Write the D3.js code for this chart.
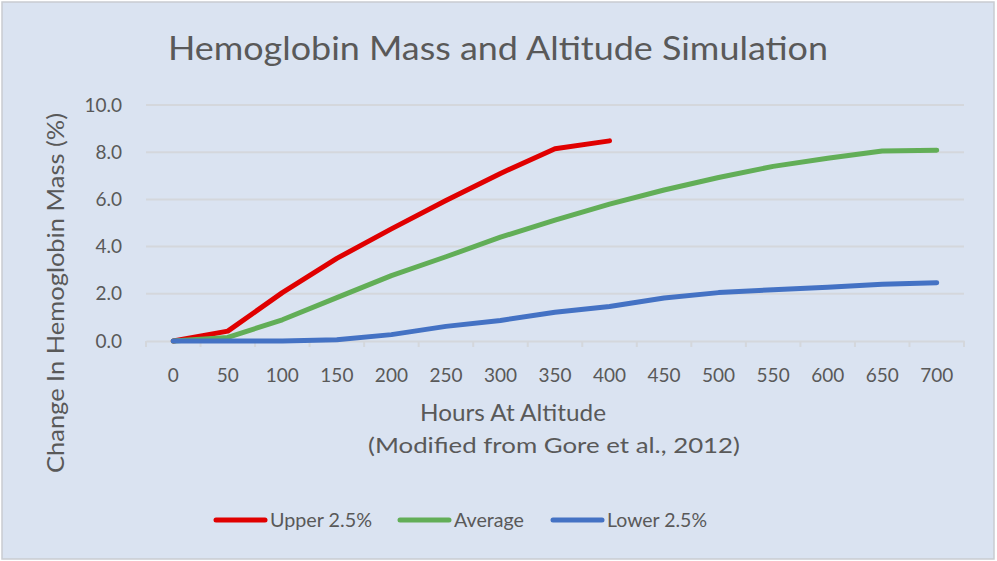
<!DOCTYPE html>
<html>
<head>
<meta charset="utf-8">
<script src="https://cdn.jsdelivr.net/npm/d3@7"></script>
<style>
  body { margin: 0; background: #fff; }
  svg text { font-family: Lato, "Open Sans", sans-serif; fill: #595959; }
</style>
</head>
<body>
<svg id="chart"></svg>
<script>
// hours at altitude (category axis)
const hours = [0, 50, 100, 150, 200, 250, 300, 350, 400, 450, 500, 550, 600, 650, 700];
// change in hemoglobin mass (%)
const upper = [0, 0.42, 2.05, 3.5, 4.75, 5.95, 7.1, 8.15, 8.48];
const average = [0, 0.15, 0.9, 1.84, 2.77, 3.57, 4.4, 5.12, 5.8, 6.4, 6.93, 7.4, 7.74, 8.05, 8.08];
const lower = [0, 0, 0, 0.05, 0.27, 0.62, 0.87, 1.22, 1.46, 1.82, 2.05, 2.17, 2.28, 2.4, 2.47];
const yTicks = [0, 2, 4, 6, 8, 10];

const seriesNames = ["Upper 2.5%", "Average", "Lower 2.5%"];
const seriesColors = ["#e00000", "#62ae57", "#4472c4"];
const seriesData = [upper, average, lower];

const W = 997, H = 561;
const svg = d3.select("#chart").attr("width", W).attr("height", H);

// chart background + border
svg.append("rect")
    .attr("x", 2).attr("y", 2)
    .attr("width", W - 5).attr("height", H - 4)
    .attr("fill", "#dae3f1")
    .attr("stroke", "#c9ccd1")
    .attr("stroke-width", 1.5);

const plotLeft = 146, plotRight = 964, plotTop = 105, plotBottom = 341;

let xScale = d3.scaleBand()
    .domain(hours)
    .range([plotLeft, plotRight]);

let yScale = d3.scaleLinear()
    .domain([0, 10])
    .range([plotBottom, plotTop]);

// gridlines
svg.append("g")
    .selectAll("line")
    .data(yTicks.filter(d => d > 0))
    .enter()
    .append("line")
    .attr("x1", plotLeft).attr("x2", plotRight)
    .attr("y1", d => yScale(d)).attr("y2", d => yScale(d))
    .attr("stroke", "#d4d7dc")
    .attr("stroke-width", 2);

// y labels
svg.append("g")
    .selectAll("text")
    .data(yTicks)
    .enter()
    .append("text")
    .attr("x", 122)
    .attr("y", d => yScale(d))
    .attr("dy", "0.35em")
    .attr("text-anchor", "end")
    .attr("font-size", "19px")
    .text(d => d.toFixed(1));

// x axis
let xAxis = d3.axisBottom(xScale).tickSize(0).tickPadding(28);
let gx = svg.append("g")
    .attr("transform", "translate(0," + plotBottom + ")")
    .call(xAxis);
gx.select(".domain").attr("stroke", "#d4d7dc").attr("stroke-width", 2);
gx.selectAll("text").attr("font-size", "19px").attr("fill", "#595959")
    .style("font-family", "Lato, 'Open Sans', sans-serif");
// tick marks at category boundaries
gx.append("g")
    .selectAll("line")
    .data(hours.map(d => xScale(d)).concat([plotRight]))
    .enter()
    .append("line")
    .attr("x1", d => d).attr("x2", d => d)
    .attr("y1", 0).attr("y2", 6)
    .attr("stroke", "#d4d7dc")
    .attr("stroke-width", 2);

// lines
const lineFun = d3.line()
    .x((d, i) => xScale(hours[i]) + xScale.bandwidth() / 2)
    .y(d => yScale(d));

seriesData.forEach((s, k) => {
    svg.append("path")
        .attr("d", lineFun(s))
        .attr("fill", "none")
        .attr("stroke", seriesColors[k])
        .attr("stroke-width", 5)
        .attr("stroke-linecap", "round")
        .attr("stroke-linejoin", "round");
});

// title
svg.append("text")
    .attr("x", 168).attr("y", 60)
    .attr("font-size", "33px")
    .attr("textLength", 660)
    .attr("lengthAdjust", "spacingAndGlyphs")
    .text("Hemoglobin  Mass and Altitude Simulation");

// axis titles
svg.append("text")
    .attr("x", 420).attr("y", 421)
    .attr("font-size", "24px")
    .attr("textLength", 186)
    .attr("lengthAdjust", "spacingAndGlyphs")
    .text("Hours At Altitude");
svg.append("text")
    .attr("x", 368).attr("y", 453)
    .attr("font-size", "22px")
    .attr("textLength", 372)
    .attr("lengthAdjust", "spacingAndGlyphs")
    .text("(Modified from Gore  et al., 2012)");
svg.append("text")
    .attr("transform", "translate(64,473) rotate(-90)")
    .attr("font-size", "23px")
    .attr("textLength", 360)
    .attr("lengthAdjust", "spacingAndGlyphs")
    .text("Change In Hemoglobin Mass (%)");

// legend
const legendX = [216, 400, 553];
const legendW = [102, 70, 100];
seriesNames.forEach((n, k) => {
    svg.append("line")
        .attr("x1", legendX[k]).attr("x2", legendX[k] + 49)
        .attr("y1", 520).attr("y2", 520)
        .attr("stroke", seriesColors[k])
        .attr("stroke-width", 5)
        .attr("stroke-linecap", "round");
    svg.append("text")
        .attr("x", legendX[k] + 54).attr("y", 520)
        .attr("dy", "0.35em")
        .attr("font-size", "20px")
        .attr("textLength", legendW[k])
        .attr("lengthAdjust", "spacingAndGlyphs")
        .text(n);
});
</script>
</body>
</html>
